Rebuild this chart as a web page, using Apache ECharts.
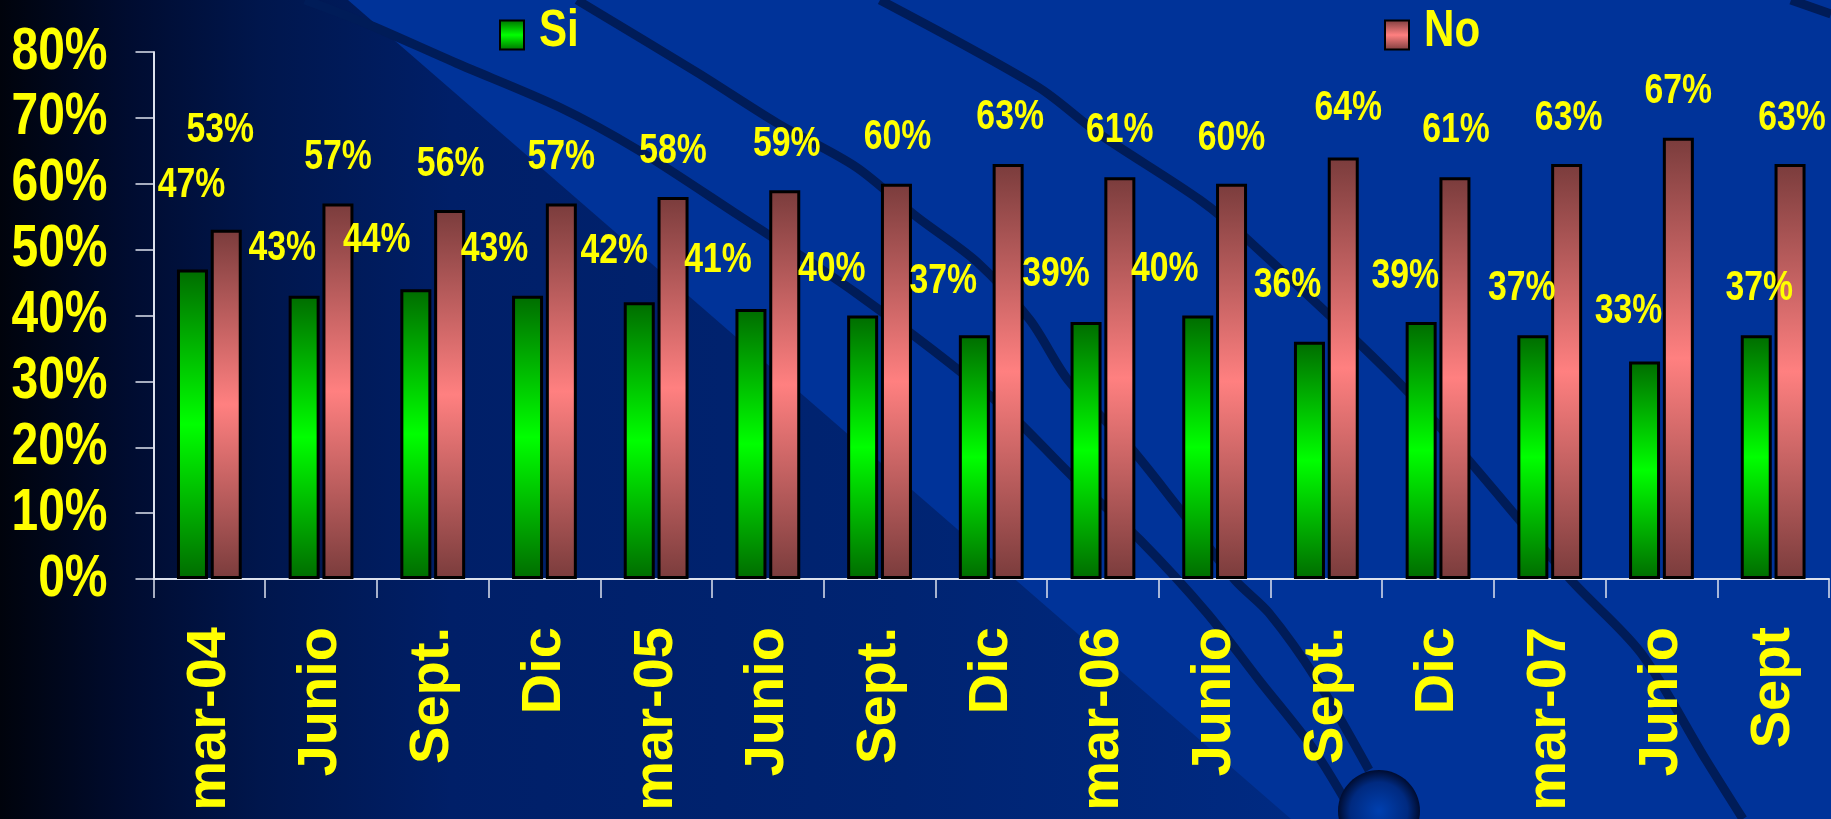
<!DOCTYPE html>
<html>
<head>
<meta charset="utf-8">
<script src="https://cdn.jsdelivr.net/npm/echarts@6/dist/echarts.min.js"></script>
<style>
html,body{margin:0;padding:0;background:#003399;}
#chart{width:1831px;height:819px;}
</style>
</head>
<body>
<div id="chart"></div>
<script>
const categories = ['mar-04','Junio','Sept.','Dic','mar-05','Junio','Sept.','Dic','mar-06','Junio','Sept.','Dic','mar-07','Junio','Sept'];
const siValues = [47, 43, 44, 43, 42, 41, 40, 37, 39, 40, 36, 39, 37, 33, 37];
const noValues = [53, 57, 56, 57, 58, 59, 60, 63, 61, 60, 64, 61, 63, 67, 63];
const seriesNames = ['Si', 'No'];
const yTicks = [0, 10, 20, 30, 40, 50, 60, 70, 80];

// label nudges: [dx, height of label centre above bar top]
const siLabelShift = [[-1,84],[-22,48],[-39,49],[-33,47],[-25,51],[-33,49],[-31,46],[-31,54],[-30,48],[-33,46],[-22,57],[-16,46],[-11,47],[-16,50],[3,47]];
const noLabelShift = [[-6,100],[0,46],[1,46],[0,46],[0,46],[2,46],[1,47],[2,47],[0,47],[0,46],[5,49],[1,47],[2,46],[0,46],[2,46]];

const SANS = "'Liberation Sans',Arial,sans-serif";
const YEL = '#ffff00';
const NARROW_SCALE = 0.8;   // Arial-Narrow look from Arial Bold
const BAR_W = 31, BAR_GAP = 0.09;
const HALF = (BAR_W + BAR_W * BAR_GAP) / 2;

function vgrad(dark, bright) {
  return new echarts.graphic.LinearGradient(0, 0, 0, 1, [
    {offset: 0, color: dark}, {offset: 0.5, color: bright}, {offset: 1, color: dark}
  ]);
}
const greenFill = vgrad('#006c00', '#00ff00');
const pinkFill = vgrad('#7a3c3c', '#ff8080');

function narrowText(text, x, y, size, align, scale) {
  return {type: 'text', x: x, y: y, scaleX: scale,
    style: {text: text, fill: YEL, fontFamily: SANS, fontWeight: 'bold', fontSize: size,
            align: align, verticalAlign: 'middle'}};
}

function labelSeries(vals, shifts, side) {
  return {
    type: 'custom', z: 5, silent: true,
    data: vals.map((v, i) => [i, v]),
    renderItem: function (params, api) {
      const i = params.dataIndex;
      const p = api.coord([api.value(0), api.value(1)]);
      return narrowText(api.value(1) + '%', p[0] + side * HALF + shifts[i][0], p[1] - shifts[i][1], 43, 'center', 0.785);
    }
  };
}

const yLabelSeries = {
  type: 'custom', z: 5, silent: true,
  data: yTicks.map(v => [0, v]),
  renderItem: function (params, api) {
    const p = api.coord([0, api.value(1)]);
    return narrowText(api.value(1) + '%', params.coordSys.x - 46, p[1], 60, 'right', NARROW_SCALE);
  }
};

const W = 1831, H = 819;
const bgGrad = new echarts.graphic.LinearGradient(0, 0, 1, 0, [
  {offset: 0, color: '#00030c'},
  {offset: 0.1, color: '#000c30'},
  {offset: 0.2, color: '#00164c'},
  {offset: 0.35, color: '#001f68'},
  {offset: 0.7, color: '#002472'},
  {offset: 1, color: '#002a82'}
]);
const darkLine = {stroke: '#001c58', lineWidth: 9, fill: null};

const chart = echarts.init(document.getElementById('chart'), null, {renderer: 'canvas'});
chart.setOption({
  backgroundColor: '#003399',
  animation: false,
  graphic: [
    {type: 'polygon', z: -5, silent: true,
     shape: {points: [[0,0],[348,0],[1291,H],[0,H]]},
     style: {fill: bgGrad}},
    {type: 'polyline', z: -4, silent: true,
     shape: {smooth: 0.3, points: [[305,0],[365,23],[456,63],[559,107],[638,150],[735,213],[856,293],[995,400],[1073,477],[1140,540],[1207,613],[1259,680],[1312,747],[1345,800]]},
     style: darkLine},
    {type: 'polyline', z: -4, silent: true,
     shape: {smooth: 0.3, points: [[577,0],[698,73],[777,123],[856,167],[917,217],[977,262],[1030,320],[1068,380],[1130,447],[1178,507],[1235,580],[1269,613],[1317,680],[1369,770]]},
     style: darkLine},
    {type: 'polyline', z: -4, silent: true,
     shape: {smooth: 0.3, points: [[880,0],[1038,87],[1098,133],[1200,200],[1248,240],[1409,393],[1571,580],[1641,653],[1706,760],[1743,H]]},
     style: darkLine},
    {type: 'polyline', z: -4, silent: true,
     shape: {points: [[1791,0],[1831,14]]},
     style: darkLine},
    {type: 'ellipse', z: -3, silent: true,
     shape: {cx: 1379, cy: 811, rx: 41, ry: 41},
     style: {fill: new echarts.graphic.RadialGradient(0.5, 0.5, 0.5, [
       {offset: 0, color: '#0040b0'}, {offset: 0.7, color: '#002a80'}, {offset: 1, color: '#000c30'}
     ])}},
    Object.assign(narrowText(seriesNames[0], 539, 32, 52, 'left', 0.81), {z: 10}),
    Object.assign(narrowText(seriesNames[1], 1424, 32, 52, 'left', 0.81), {z: 10})
  ],
  legend: [
    {data: [seriesNames[0]], left: 499, top: 19.5, padding: 0, itemWidth: 24, itemHeight: 29, icon: 'rect',
     formatter: () => '', textStyle: {fontSize: 10}},
    {data: [seriesNames[1]], left: 1384, top: 19.5, padding: 0, itemWidth: 24, itemHeight: 29, icon: 'rect',
     formatter: () => '', textStyle: {fontSize: 10}}
  ],
  grid: {left: 153.5, right: 2, top: 52, bottom: 240, containLabel: false, outerBoundsMode: 'none'},
  xAxis: {
    type: 'category', data: categories,
    axisLine: {lineStyle: {color: '#dde2ee', width: 2}},
    axisTick: {show: true, length: 19, lineStyle: {color: '#dde2ee', width: 1.5}},
    axisLabel: {rotate: 90, margin: 48, interval: 0, color: YEL, fontFamily: SANS, fontWeight: 'bold', fontSize: 56}
  },
  yAxis: {
    type: 'value', min: yTicks[0], max: yTicks[yTicks.length - 1], interval: yTicks[1] - yTicks[0],
    splitLine: {show: false},
    axisLine: {show: true, lineStyle: {color: '#dde2ee', width: 2}},
    axisTick: {show: true, length: 18, lineStyle: {color: '#dde2ee', width: 1.5}},
    axisLabel: {show: false}
  },
  series: [
    {name: seriesNames[0], type: 'bar', barWidth: BAR_W, barGap: (BAR_GAP * 100) + '%',
     data: siValues,
     itemStyle: {color: greenFill, borderColor: '#000', borderWidth: 3}},
    {name: seriesNames[1], type: 'bar', barWidth: BAR_W, barGap: (BAR_GAP * 100) + '%',
     data: noValues,
     itemStyle: {color: pinkFill, borderColor: '#000', borderWidth: 3}},
    labelSeries(siValues, siLabelShift, -1),
    labelSeries(noValues, noLabelShift, 1),
    yLabelSeries
  ]
});
</script>
</body>
</html>
